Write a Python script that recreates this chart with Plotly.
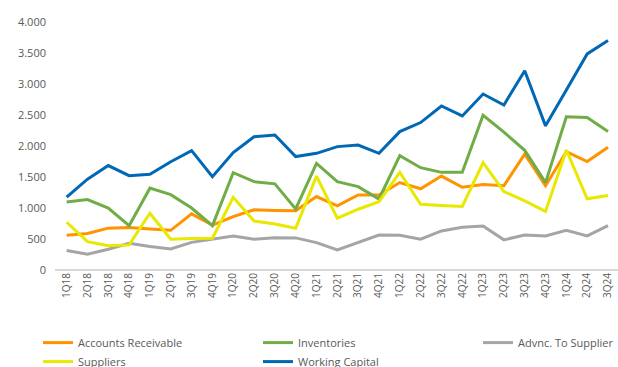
import plotly.graph_objects as go

quarters = ["1Q18","2Q18","3Q18","4Q18","1Q19","2Q19","3Q19","4Q19",
            "1Q20","2Q20","3Q20","4Q20","1Q21","2Q21","3Q21","4Q21",
            "1Q22","2Q22","3Q22","4Q22","1Q23","2Q23","3Q23","4Q23",
            "1Q24","2Q24","3Q24"]

accounts_receivable = [560, 590, 675, 685, 660, 640, 905, 725, 860, 970, 960, 955,
                       1185, 1035, 1210, 1210, 1410, 1310, 1515, 1335, 1380, 1360,
                       1870, 1360, 1910, 1750, 1980]
inventories = [1095, 1135, 1000, 715, 1320, 1215, 1000, 715, 1570, 1425, 1390, 985,
               1720, 1425, 1345, 1145, 1845, 1650, 1575, 1575, 2495, 2225,
               1930, 1410, 2470, 2460, 2235]
advnc_to_supplier = [315, 255, 335, 430, 378, 340, 446, 500, 548, 497, 522, 518,
                     442, 325, 442, 565, 560, 497, 630, 690, 710, 486,
                     565, 550, 640, 550, 715]
suppliers = [770, 458, 390, 405, 915, 497, 510, 512, 1172, 790, 742, 672,
             1515, 835, 980, 1102, 1575, 1060, 1040, 1025, 1730, 1265,
             1115, 945, 1935, 1148, 1200]
working_capital = [1175, 1465, 1685, 1522, 1545, 1747, 1925, 1505, 1893, 2150, 2177, 1830,
                   1882, 1990, 2016, 1882, 2232, 2378, 2645, 2485, 2838, 2662,
                   3215, 2325, 2905, 3485, 3700]

# (name, values, colour, legend column)
series = [
    ("Accounts Receivable", accounts_receivable, "#FF9300", "legend"),
    ("Inventories", inventories, "#70AD47", "legend2"),
    ("Advnc. To Supplier", advnc_to_supplier, "#A5A5A5", "legend3"),
    ("Suppliers", suppliers, "#E8E800", "legend"),
    ("Working Capital", working_capital, "#0068B5", "legend2"),
]

fig = go.Figure()
for name, vals, col, lg in series:
    fig.add_trace(go.Scatter(x=quarters, y=vals, name=name, mode="lines",
                             line=dict(color=col, width=3), legend=lg))

font_col = "#595959"
leg_common = dict(orientation="v", xref="container", yref="container",
                  xanchor="left", yanchor="top", y=0.106,
                  font=dict(size=11, color=font_col), tracegroupgap=0,
                  bgcolor="rgba(0,0,0,0)")
fig.update_layout(
    width=618, height=367,
    margin=dict(l=55, r=0, t=22, b=97, autoexpand=False),
    paper_bgcolor="white", plot_bgcolor="white",
    separators=",.",
    font=dict(family="Open Sans", size=10, color=font_col),
    showlegend=True,
    legend=dict(x=38/618, **leg_common),
    legend2=dict(x=258/618, **leg_common),
    legend3=dict(x=478/618, **leg_common),
    xaxis=dict(type="category", range=[-0.56, 26.48], tickangle=-90,
               showgrid=False, showline=False, zeroline=False, ticks="",
               automargin=False, tickfont=dict(size=10, color=font_col)),
    yaxis=dict(range=[0, 4000], dtick=500, tickformat=",d", showgrid=False,
               zeroline=True, zerolinecolor="#D9D9D9", zerolinewidth=2,
               showline=False, ticks="", ticklabelstandoff=8, automargin=False,
               tickfont=dict(size=11, color=font_col)),
)

fig.write_html("out.html")
